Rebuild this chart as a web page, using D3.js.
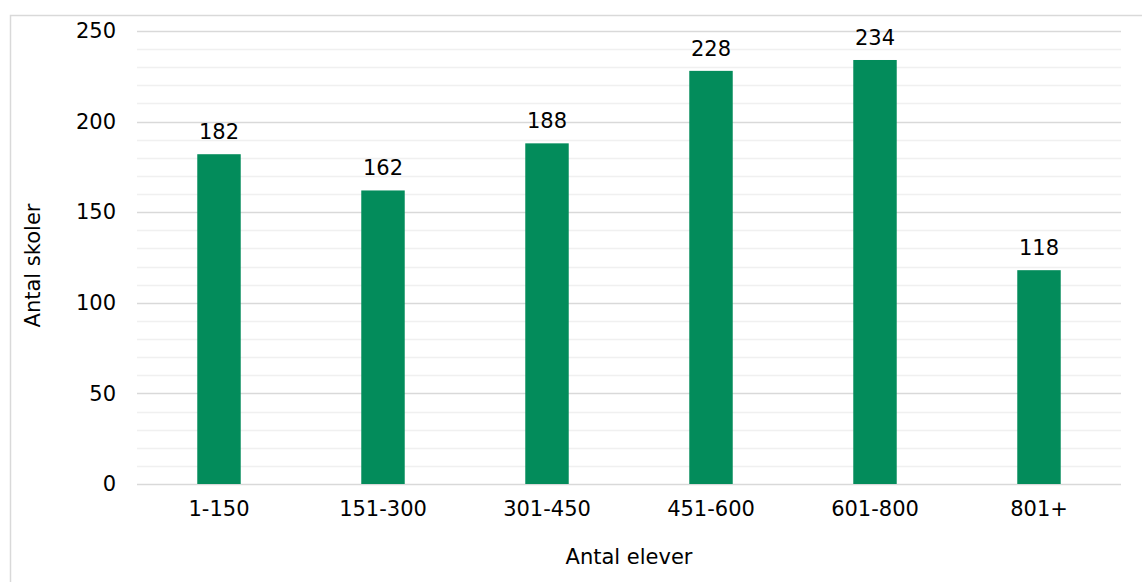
<!DOCTYPE html>
<html>
<head>
<meta charset="utf-8">
<script src="https://cdn.jsdelivr.net/npm/d3@7"></script>
<style>
  html, body { margin: 0; padding: 0; background: #fff; }
  svg { display: block; }
  text { font-family: "DejaVu Sans", Verdana, sans-serif; fill: #000; }
</style>
</head>
<body>
<svg id="chart" width="1142" height="582"></svg>
<script>
// Number of schools by pupil count
const categories = ["1-150", "151-300", "301-450", "451-600", "601-800", "801+"];
const values = [182, 162, 188, 228, 234, 118];
const yTicks = [0, 50, 100, 150, 200, 250];
const yMinorTicks = d3.range(0, 251, 10);

const svg = d3.select("#chart");
const W = 1142, H = 582;
const plotLeft = 137, plotRight = 1121, plotTop = 31, plotBottom = 484;
const fontSize = 21;

// Chart frame
svg.append("rect")
  .attr("x", 10.5).attr("y", 15.5)
  .attr("width", W).attr("height", H)
  .attr("fill", "#fff").attr("stroke", "#d9d9d9").attr("stroke-width", 1.5);

const x = d3.scaleBand().domain(categories).range([plotLeft, plotRight]).paddingInner(0.735).paddingOuter(0.3675);
const y = d3.scaleLinear().domain([0, 250]).range([plotBottom, plotTop]);

// Minor gridlines
svg.append("g").selectAll("line")
  .data(yMinorTicks.filter(v => v % 50 !== 0))
  .join("line")
  .attr("x1", plotLeft).attr("x2", plotRight)
  .attr("y1", d => Math.round(y(d)) + 0.5).attr("y2", d => Math.round(y(d)) + 0.5)
  .attr("stroke", "#f0f0f0").attr("stroke-width", 1.5);

// Major gridlines
svg.append("g").selectAll("line")
  .data(yTicks)
  .join("line")
  .attr("x1", plotLeft).attr("x2", plotRight)
  .attr("y1", d => Math.round(y(d)) + 0.5).attr("y2", d => Math.round(y(d)) + 0.5)
  .attr("stroke", "#d9d9d9").attr("stroke-width", 1.5);

// Y axis tick labels
const yAxis = d3.axisLeft(y).tickValues(yTicks).tickSize(0).tickPadding(21);
const gy = svg.append("g").attr("transform", `translate(${plotLeft},0)`).call(yAxis);
gy.select(".domain").remove();
gy.selectAll("text").style("font-size", fontSize + "px").style("font-family", "DejaVu Sans, Verdana, sans-serif").attr("fill", "#000");

// X axis tick labels
const xAxis = d3.axisBottom(x).tickSize(0).tickPadding(17);
const gx = svg.append("g").attr("transform", `translate(0,${plotBottom})`).call(xAxis);
gx.select(".domain").remove();
gx.selectAll("text").style("font-size", fontSize + "px").style("font-family", "DejaVu Sans, Verdana, sans-serif").attr("fill", "#000");

// Bars
svg.append("g").selectAll("rect")
  .data(values)
  .join("rect")
  .attr("x", (d, i) => x(categories[i]))
  .attr("width", x.bandwidth())
  .attr("y", d => y(d))
  .attr("height", d => y(0) - y(d))
  .attr("fill", "#038c5b");

// Value labels
svg.append("g").selectAll("text")
  .data(values)
  .join("text")
  .attr("x", (d, i) => x(categories[i]) + x.bandwidth() / 2)
  .attr("y", d => y(d) - 15)
  .attr("text-anchor", "middle")
  .style("font-size", fontSize + "px")
  .text(d => d);

// Axis titles
svg.append("text")
  .attr("transform", `translate(40,${(plotTop + plotBottom) / 2 + 8}) rotate(-90)`)
  .attr("text-anchor", "middle")
  .style("font-size", fontSize + "px")
  .text("Antal skoler");

svg.append("text")
  .attr("x", (plotLeft + plotRight) / 2)
  .attr("y", 564)
  .attr("text-anchor", "middle")
  .style("font-size", fontSize + "px")
  .text("Antal elever");
</script>
</body>
</html>
